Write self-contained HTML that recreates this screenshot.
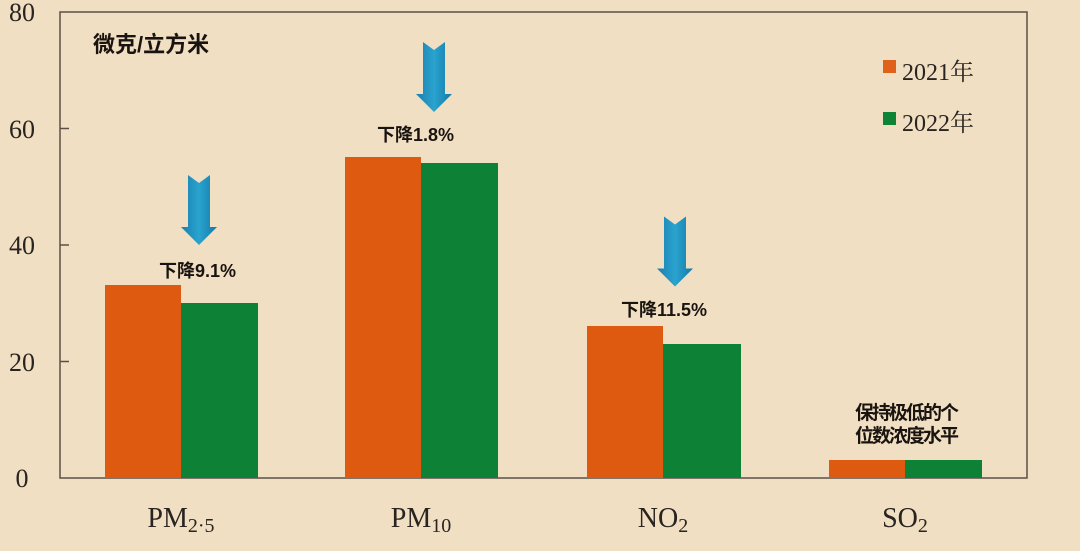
<!DOCTYPE html>
<html><head><meta charset="utf-8"><style>
html,body{margin:0;padding:0;width:1080px;height:551px;overflow:hidden;background:#f0dfc3;}
svg{display:block}
.s{font-family:"Liberation Serif","Noto Serif CJK SC",serif;fill:#2a2420}
.b{font-family:"Liberation Sans","Noto Sans CJK SC",sans-serif;font-weight:bold;fill:#1a1410}
</style></head><body>
<svg width="1080" height="551" viewBox="0 0 1080 551">
<defs>
<linearGradient id="ag" x1="0" x2="1">
<stop offset="0" stop-color="#1a7fb0"/><stop offset="0.5" stop-color="#2aa3cf"/><stop offset="1" stop-color="#137aa8"/>
</linearGradient>
<symbol id="arr" viewBox="0 0 36 70"><path d="M7 0 L18 8 L29 0 L29 52 L36 52 L18 70 L0 52 L7 52 Z" fill="url(#ag)"/></symbol>
</defs>
<rect x="60" y="12" width="967" height="466" fill="none" stroke="#5a5048" stroke-width="1.5"/>
<g stroke="#5a5048" stroke-width="1.5">
<line x1="60" y1="128.5" x2="69" y2="128.5"/><line x1="60" y1="245" x2="69" y2="245"/><line x1="60" y1="361.5" x2="69" y2="361.5"/>
</g>
<g class="s" font-size="26" text-anchor="middle">
<text x="22" y="21">80</text><text x="22" y="138">60</text><text x="22" y="254">40</text><text x="22" y="371">20</text><text x="22" y="487">0</text>
</g>
<text class="b" x="93" y="52" font-size="22">微克/立方米</text>
<rect x="883" y="60" width="13" height="13" fill="#e0621a"/>
<text class="s" x="902" y="80" font-size="24">2021年</text>
<rect x="883" y="112" width="13" height="13" fill="#0f8436"/>
<text class="s" x="902" y="131" font-size="24">2022年</text>
<g fill="#de5a10">
<rect x="105" y="285" width="76" height="193"/><rect x="345" y="157" width="76" height="321"/><rect x="587" y="326" width="76" height="152"/><rect x="829" y="460" width="76" height="18"/>
</g>
<g fill="#0d8237">
<rect x="181" y="303" width="77" height="175"/><rect x="421" y="163" width="77" height="315"/><rect x="663" y="344" width="78" height="134"/><rect x="905" y="460" width="77" height="18"/>
</g>
<use href="#arr" x="181" y="175" width="36" height="70"/>
<use href="#arr" x="416" y="42" width="36" height="70"/>
<use href="#arr" x="657" y="216" width="36" height="71"/>
<g class="b" font-size="18">
<text x="159" y="277">下降9.1%</text>
<text x="377" y="141">下降1.8%</text>
<text x="621" y="316">下降11.5%</text>
</g>
<g class="b" font-size="19" text-anchor="middle" letter-spacing="-2">
<text x="906" y="419">保持极低的个</text><text x="906" y="442">位数浓度水平</text>
</g>
<g class="s" font-size="28" text-anchor="middle">
<text x="181" y="527">PM<tspan font-size="20" dy="5">2·5</tspan></text>
<text x="421" y="527">PM<tspan font-size="20" dy="5">10</tspan></text>
<text x="663" y="527">NO<tspan font-size="20" dy="5">2</tspan></text>
<text x="905" y="527">SO<tspan font-size="20" dy="5">2</tspan></text>
</g>
</svg>
</body></html>
